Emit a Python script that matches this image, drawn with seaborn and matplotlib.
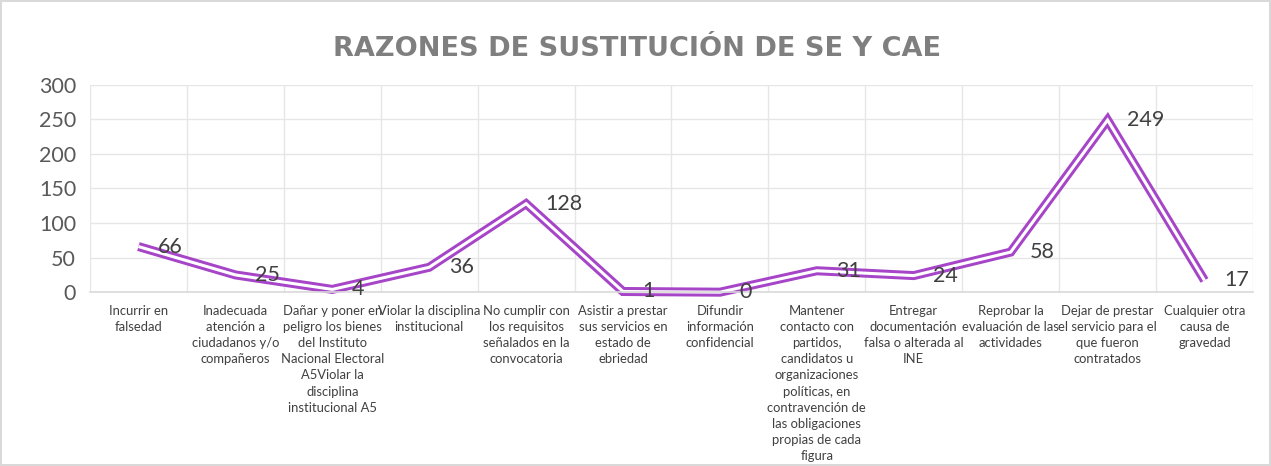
import numpy as np
import pandas as pd
import matplotlib
matplotlib.use("Agg")
import matplotlib.pyplot as plt
import seaborn as sns

categorias = [
    "Incurrir en\nfalsedad",
    "Inadecuada\natención a\nciudadanos y/o\ncompañeros",
    "Dañar y poner en\npeligro los bienes\ndel Instituto\nNacional Electoral\nA5Violar la\ndisciplina\ninstitucional A5",
    "Violar la disciplina\ninstitucional",
    "No cumplir con\nlos requisitos\nseñalados en la\nconvocatoria",
    "Asistir a prestar\nsus servicios en\nestado de\nebriedad",
    "Difundir\ninformación\nconfidencial",
    "Mantener\ncontacto con\npartidos,\ncandidatos u\norganizaciones\npolíticas, en\ncontravención de\nlas obligaciones\npropias de cada\nfigura",
    "Entregar\ndocumentación\nfalsa o alterada al\nINE",
    "Reprobar la\nevaluación de las\nactividades",
    "Dejar de prestar\nel servicio para el\nque fueron\ncontratados",
    "Cualquier otra\ncausa de\ngravedad",
]
valores = [66, 25, 4, 36, 128, 1, 0, 31, 24, 58, 249, 17]
titulo = "RAZONES DE SUSTITUCIÓN DE SE Y CAE"

sns.set_theme(style="white")
plt.rcParams['font.family'] = ['Lato', 'DejaVu Sans']

df = pd.DataFrame({"x": np.arange(len(valores)), "valor": valores})

fig = plt.figure(figsize=(12.71, 4.66), dpi=100)
fig.patch.set_edgecolor("#D9D9D9")
fig.patch.set_linewidth(1.5)
ax = fig.add_axes([0.0708, 0.373, 0.915, 0.445])

# double line: purple outline with white core
sns.lineplot(data=df, x="x", y="valor", ax=ax, color="#A645C8", linewidth=6.5,
             solid_joinstyle="miter", solid_capstyle="butt", legend=False, clip_on=False)
sns.lineplot(data=df, x="x", y="valor", ax=ax, color="white", linewidth=2.2,
             solid_joinstyle="miter", solid_capstyle="butt", legend=False, clip_on=False)

for i, v in enumerate(valores):
    ax.annotate(str(v), (i, v), xytext=(14, 0), textcoords="offset points",
                ha="left", va="center", fontsize=15.5, color="#404040")

ax.set_xlim(-0.5, len(valores) - 0.5)
ax.set_ylim(0, 300)
ax.set_yticks(range(0, 301, 50))
ax.set_xticks(range(len(valores)))
ax.set_xticklabels(categorias, fontsize=9.4, color="#404040", linespacing=1.42, va="top")
ax.tick_params(axis="x", length=0, pad=9)
ax.tick_params(axis="y", length=0, pad=10, labelsize=15.5, labelcolor="#595959")
ax.set_xlabel("")
ax.set_ylabel("")

ax.grid(axis="y", color="#E6E6E6", linewidth=1)
for b in np.arange(-0.5, len(valores), 1.0):
    ax.axvline(b, color="#E6E6E6", linewidth=1, zorder=0)
for s in ["top", "right", "left"]:
    ax.spines[s].set_visible(False)
ax.spines["bottom"].set_color("#D9D9D9")
ax.spines["bottom"].set_linewidth(1.2)

fig.text(0.501, 0.895, titulo, ha="center", va="center", fontsize=19.5,
         fontweight="bold", color="#7F7F7F", family=["DejaVu Sans"])

fig.savefig("out.png", dpi=100)
